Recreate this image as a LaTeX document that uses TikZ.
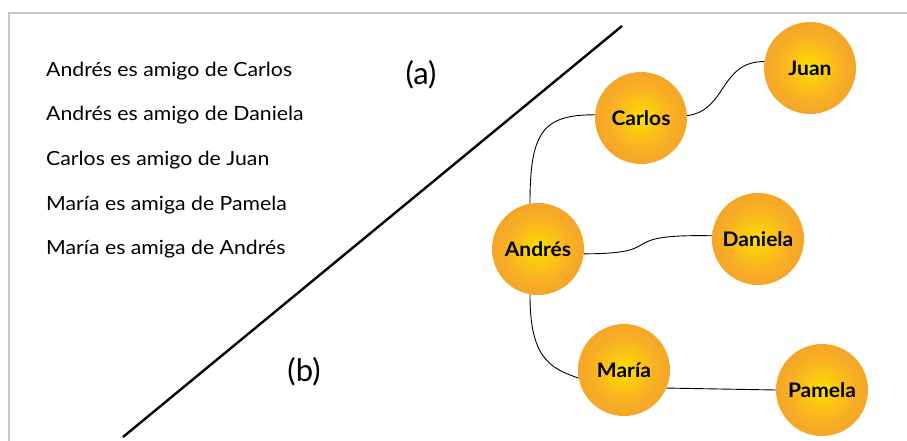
\documentclass[tikz,border=0pt]{standalone}
\usepackage{fontspec}
\setmainfont{Lato}
\definecolor{ballcore}{HTML}{FFE600}
\definecolor{ballinner}{HTML}{FDD00C}
\definecolor{ballmid}{HTML}{F7AE25}
\definecolor{ballouter}{HTML}{F29B2C}
\definecolor{ballrim}{HTML}{F0922F}
\definecolor{framegray}{HTML}{C8C8C0}
\pgfdeclareradialshading{sunball}{\pgfpoint{0bp}{0bp}}{%
  color(0bp)=(ballcore); color(5bp)=(ballinner); color(18bp)=(ballmid);
  color(34bp)=(ballouter); color(50bp)=(ballrim)}
\tikzset{
  person/.style={circle, minimum size=92pt, inner sep=0pt, shading=sunball,
    font=\addfontfeature{FakeStretch=1.05}\fontsize{20}{22}\selectfont\bfseries, text=black},
  link/.style={draw=black, line width=0.9pt},
  fact/.style={anchor=base west, inner sep=0pt,
    font=\addfontfeature{FakeStretch=1.09}\fontsize{19.5}{22}\selectfont},
  part/.style={inner sep=0pt, font=\fontsize{31}{34}\selectfont},
}
\begin{document}
\begin{tikzpicture}[x=1pt, y=-1pt]
\useasboundingbox (0,0) rectangle (907,441);
% frame
\draw[framegray, line width=2pt] (9,441) -- (9,13) -- (907,13);
% dividing diagonal
\coordinate (dlow) at (123,437);
\coordinate (dhigh) at (622,26);
\draw[line width=2.4pt] (dlow) -- (dhigh);
% part labels
\node[part] (pa) at (421,75) {(a)};
\node[part] (pb) at (304,372) {(b)};
% statements
\node[fact] (f1) at (46,77) {Andrés es amigo de Carlos};
\node[fact] (f2) at (46,121) {Andrés es amigo de Daniela};
\node[fact] (f3) at (46,165) {Carlos es amigo de Juan};
\node[fact] (f4) at (46,210) {María es amiga de Pamela};
\node[fact] (f5) at (46,254) {María es amiga de Andrés};
% people
\node[person] (carlos) at (641,118) {Carlos};
\node[person] (juan) at (810,68) {Juan};
\node[person] (andres) at (538,249) {Andrés};
\node[person] (daniela) at (758,239) {Daniela};
\node[person] (maria) at (624,370) {María};
\node[person] (pamela) at (822,390) {Pamela};
% friendships
\draw[link] (andres.100) .. controls +(0,-72) and +(-52,0) .. (carlos.176);
\draw[link] (carlos.3) .. controls +(40,-5) and +(-45,0) .. (juan.172);
\draw[link] (andres.-6) .. controls +(88,0) and +(-102,-2) .. (daniela.176);
\draw[link] (andres.260) .. controls +(0,62) and +(-30,-10) .. (maria.190);
\draw[link] (maria.-23) -- (pamela.180);
\end{tikzpicture}
\end{document}
